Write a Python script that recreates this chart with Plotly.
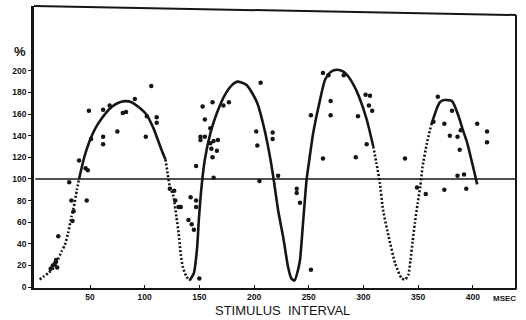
import plotly.graph_objects as go

# ---- data ----
# fitted curve, split into drawn (solid) and dotted stretches
dot1_x = [4, 8, 12, 17, 21, 24, 27, 30, 33, 35, 38, 40]
dot1_y = [7, 10, 13, 18, 26, 33, 39, 50, 65, 73, 90, 100]

sol1_x = [40, 45, 50, 55, 60, 68, 75, 82, 88, 95, 102, 108, 111, 115, 119]
sol1_y = [100, 121, 136, 147, 155, 165, 170, 172, 171, 166, 159, 147, 139, 128, 118]

dot2_x = [119, 121, 123, 126, 129, 131, 133, 135, 138, 141]
dot2_y = [118, 105, 93, 85, 65, 50, 30, 18, 10, 6]

sol2_x = [141, 145, 148, 149.5, 152, 155, 160, 166, 174, 180, 185, 193, 198, 203, 209,
          215, 218, 222, 227, 231, 234, 237, 240, 242, 245, 248, 250, 254, 259, 265,
          270, 276, 282, 286, 291, 296, 303, 309]
sol2_y = [6, 13, 37, 62, 93, 118, 142, 161, 179, 187, 190, 187, 180, 170, 148,
          118, 99, 71, 44, 19, 8, 6, 15, 25, 62, 99, 114, 142, 167, 192,
          199, 201, 199, 195, 187, 176, 155, 130]

dot3_x = [309, 312, 315, 318, 323, 329, 335, 338, 341, 343, 345, 347, 349.5, 352, 354, 358, 362]
dot3_y = [130, 114, 96, 71, 47, 22, 8, 7, 11, 25, 42, 59, 77, 93, 111, 133, 150]

sol3_x = [362, 367, 370, 374, 381, 387, 391, 395, 401, 404]
sol3_y = [150, 165, 171, 173, 172, 158, 145, 133, 108, 95]

# individual observations
obs_x = [106, 91, 49, 80, 83, 75, 101, 111, 111, 102, 62, 62, 51, 40, 48, 46, 47, 21,
         62, 68, 31, 33, 35, 34, 16, 18, 19, 14, 20,
         206, 162, 172, 177, 153, 155, 160, 151, 151, 155, 160, 163, 167, 161, 166, 162,
         147, 163, 202, 203, 217, 217, 222, 205, 142, 147, 147, 140, 143, 145, 150,
         123, 127, 128, 131, 133,
         263, 268, 282, 302, 306, 305, 308, 270, 252, 270, 295, 303, 263, 293, 338,
         239, 239, 242, 252,
         368, 381, 364, 374, 389, 404, 413, 413, 379, 386, 388, 386, 392, 349, 357,
         374, 394]
obs_y = [186, 174, 163, 161, 162, 144, 139, 157, 152, 158, 139, 132, 137, 117, 108, 110, 80, 47,
         164, 168, 97, 80, 70, 61, 20, 22, 25, 17, 18,
         189, 171, 168, 171, 167, 155, 147, 139, 136, 139, 133, 135, 136, 128, 126, 120,
         112, 101, 144, 131, 143, 137, 103, 98, 83, 80, 74, 62, 58, 53, 8,
         91, 89, 80, 74, 74,
         198, 196, 196, 178, 177, 168, 163, 172, 159, 159, 158, 132, 119, 120, 119,
         91, 87, 78, 16,
         176, 163, 153, 151, 145, 151, 144, 134, 140, 139, 127, 103, 104, 92, 86,
         90, 91]

x_ticks = [50, 100, 150, 200, 250, 300, 350, 400]
y_ticks = [0, 20, 40, 60, 80, 100, 120, 140, 160, 180, 200]
ref_level = 100

INK = "#151515"

fig = go.Figure()

for xs, ys in [(dot1_x, dot1_y), (dot2_x, dot2_y), (dot3_x, dot3_y)]:
    fig.add_trace(go.Scatter(x=xs, y=ys, mode="lines",
                             line=dict(color=INK, width=2.6, dash="2px,2px", shape="spline",
                                       smoothing=0.6),
                             hoverinfo="skip"))
for xs, ys in [(sol1_x, sol1_y), (sol2_x, sol2_y), (sol3_x, sol3_y)]:
    fig.add_trace(go.Scatter(x=xs, y=ys, mode="lines",
                             line=dict(color=INK, width=2.6, shape="spline", smoothing=0.6),
                             hoverinfo="skip"))

fig.add_trace(go.Scatter(x=obs_x, y=obs_y, mode="markers",
                         marker=dict(color=INK, size=4.5), hoverinfo="skip"))

# reference line at 100 %
fig.add_shape(type="line", xref="x", yref="y", x0=0, x1=440, y0=ref_level, y1=ref_level,
              line=dict(color=INK, width=1.6))
# frame: top and right edges (slightly skewed as in the scan)
fig.add_shape(type="line", xref="paper", yref="paper", x0=0, x1=1, y0=1.0, y1=0.968,
              line=dict(color=INK, width=2))
fig.add_shape(type="line", xref="paper", yref="paper", x0=1, x1=1, y0=0.968, y1=-0.005,
              line=dict(color=INK, width=2))

tickfont = dict(family="Liberation Sans, Arial, sans-serif", size=8.5, color=INK, weight="bold")

fig.update_layout(
    width=526, height=320,
    margin=dict(l=34, r=10, t=6, b=32, autoexpand=False),
    paper_bgcolor="white", plot_bgcolor="white",
    showlegend=False,
    xaxis=dict(range=[-1.2, 439.5], tickvals=x_ticks, ticktext=[str(v) for v in x_ticks],
               showgrid=False, zeroline=False, showline=True, linecolor=INK, linewidth=2,
               ticks="inside", ticklen=3, tickcolor=INK, tickfont=tickfont),
    yaxis=dict(range=[-0.9, 260], tickvals=y_ticks, ticktext=[str(v) for v in y_ticks],
               showgrid=False, zeroline=False, showline=True, linecolor=INK, linewidth=2.5,
               ticks="outside", ticklen=3, tickcolor=INK, tickfont=tickfont),
    annotations=[
        dict(text="%", xref="paper", yref="y", x=-0.012, y=218, xanchor="right", yanchor="middle",
             showarrow=False, font=dict(family="Liberation Sans, Arial, sans-serif", size=13,
                                        color=INK, weight="bold")),
        dict(text="MSEC", xref="x", yref="paper", x=417, y=-0.036, xanchor="left", yanchor="middle",
             showarrow=False, font=dict(family="Liberation Sans, Arial, sans-serif", size=8,
                                        color=INK, weight="bold")),
        dict(text="STIMULUS  INTERVAL", xref="paper", yref="paper", x=0.515, y=-0.08,
             xanchor="center", yanchor="middle", showarrow=False,
             font=dict(family="Liberation Sans, Arial, sans-serif", size=13, color=INK)),
    ],
)

fig.write_html("out.html", config={"displayModeBar": False},
               post_script="document.body.style.margin='0';document.body.style.overflow='hidden';")
